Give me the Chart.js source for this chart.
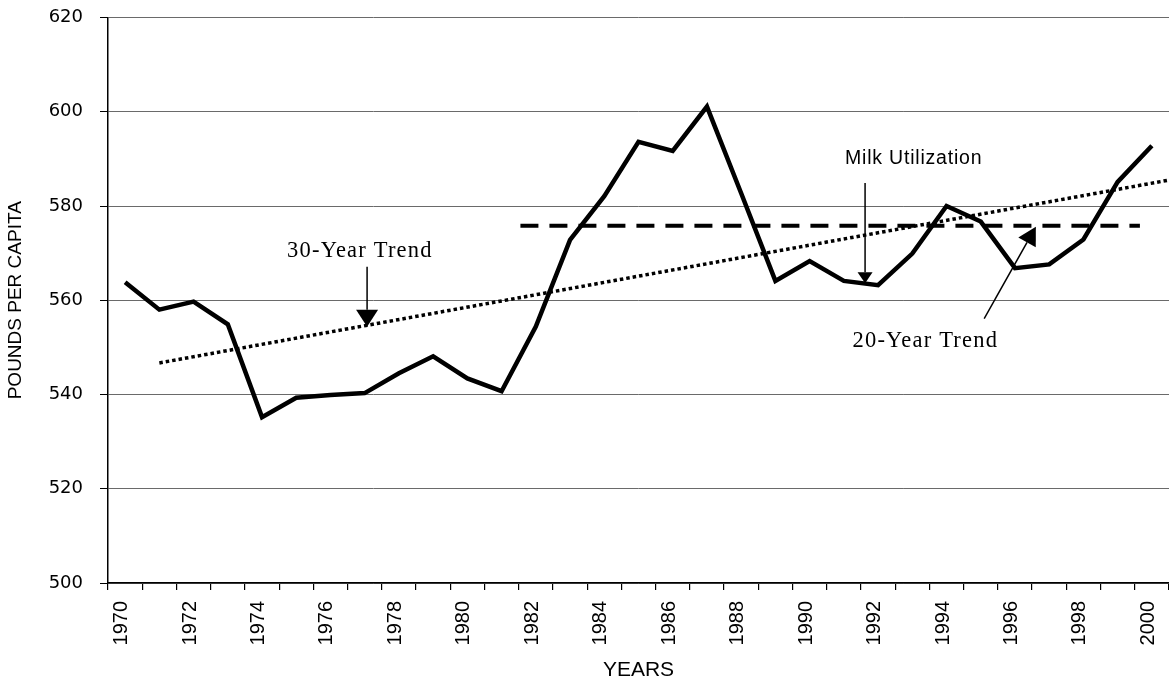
<!DOCTYPE html>
<html>
<head>
<meta charset="utf-8">
<title>Milk Utilization</title>
<script src="https://cdn.jsdelivr.net/npm/chart.js@4.4.1/dist/chart.umd.min.js"></script>
<style>
  html, body { margin: 0; padding: 0; background: #fff; }
  #wrap { width: 1169px; height: 684px; }
</style>
</head>
<body>
<div id="wrap"><canvas id="chart" width="1169" height="684"></canvas></div>
<script>
// data
const years = [1970, 1971, 1972, 1973, 1974, 1975, 1976, 1977, 1978, 1979,
               1980, 1981, 1982, 1983, 1984, 1985, 1986, 1987, 1988, 1989,
               1990, 1991, 1992, 1993, 1994, 1995, 1996, 1997, 1998, 1999, 2000];
const milkUse = [563.8, 558.0, 559.7, 554.9, 535.2, 539.3, 539.9, 540.3, 544.5, 548.1,
                 543.4, 540.7, 554.4, 572.8, 582.1, 593.6, 591.7, 601.1, 582.7, 564.1,
                 568.3, 564.1, 563.2, 569.9, 580.0, 576.7, 566.8, 567.6, 572.9, 585.1, 592.8];
const trend30Years = [1971, 2000.5];
const trend30Values = [546.7, 585.5];
const trend20Years = [1981.55, 1999.65];
const trend20Values = [575.8, 575.8];
const yTicks = [500, 520, 540, 560, 580, 600, 620];

// annotations, in data units
const notes = [
  { text: '30-Year Trend', x: 1976.86, y: 569.2, font: '22.5px "Liberation Serif"', spacing: 1.2 },
  { text: 'Milk Utilization', x: 1993.04, y: 588.9, font: '19.5px "Liberation Sans"', spacing: 0.8 },
  { text: '20-Year Trend', x: 1993.38, y: 550.0, font: '22.5px "Liberation Serif"', spacing: 1.2 }
];
const arrows = [
  { from: [1977.07, 567.1], to: [1977.07, 554.4], head: 17, half: 11 },
  { from: [1991.62, 584.9], to: [1991.62, 563.6], head: 11, half: 7.5 },
  { from: [1995.10, 556.1], to: [1996.61, 575.6], head: 18, half: 10 }
];

const toPoints = (xs, ys) => xs.map((x, i) => ({ x: x, y: ys[i] }));

const notesPlugin = {
  id: 'notes',
  afterDatasetsDraw(chart) {
    const ctx = chart.ctx;
    const xs = chart.scales.xt, ys = chart.scales.y;
    ctx.save();
    ctx.fillStyle = '#000';
    ctx.strokeStyle = '#000';
    ctx.textAlign = 'center';
    ctx.textBaseline = 'alphabetic';
    notes.forEach(n => {
      ctx.font = n.font;
      ctx.letterSpacing = n.spacing + 'px';
      ctx.fillText(n.text, xs.getPixelForValue(n.x), ys.getPixelForValue(n.y));
    });
    ctx.letterSpacing = '0px';
    ctx.lineWidth = 1.5;
    arrows.forEach(a => {
      const x1 = xs.getPixelForValue(a.from[0]), y1 = ys.getPixelForValue(a.from[1]);
      const x2 = xs.getPixelForValue(a.to[0]), y2 = ys.getPixelForValue(a.to[1]);
      const ang = Math.atan2(y2 - y1, x2 - x1);
      const bx = x2 - a.head * Math.cos(ang), by = y2 - a.head * Math.sin(ang);
      ctx.beginPath();
      ctx.moveTo(x1, y1);
      ctx.lineTo(bx, by);
      ctx.stroke();
      ctx.beginPath();
      ctx.moveTo(x2, y2);
      ctx.lineTo(bx - a.half * Math.sin(ang), by + a.half * Math.cos(ang));
      ctx.lineTo(bx + a.half * Math.sin(ang), by - a.half * Math.cos(ang));
      ctx.closePath();
      ctx.fill();
    });
    ctx.restore();
  }
};

new Chart(document.getElementById('chart'), {
  type: 'line',
  data: {
    labels: years,
    datasets: [
      {
        label: 'Milk Utilization',
        data: milkUse,
        xAxisID: 'x',
        borderColor: '#000',
        borderWidth: 4.5,
        pointRadius: 0,
        tension: 0,
        fill: false
      },
      {
        label: '20-Year Trend',
        data: toPoints(trend20Years, trend20Values),
        xAxisID: 'xt',
        borderColor: '#000',
        borderWidth: 4,
        borderDash: [18, 11],
        borderCapStyle: 'butt',
        pointRadius: 0,
        fill: false
      },
      {
        label: '30-Year Trend',
        data: toPoints(trend30Years, trend30Values),
        xAxisID: 'xt',
        borderColor: '#000',
        borderWidth: 3.5,
        borderDash: [3.5, 3],
        borderCapStyle: 'butt',
        pointRadius: 0,
        fill: false
      }
    ]
  },
  options: {
    responsive: false,
    animation: false,
    layout: { padding: { top: 17.5, right: 0, bottom: 0, left: 0 } },
    plugins: { legend: { display: false }, tooltip: { enabled: false } },
    scales: {
      x: {
        type: 'category',
        offset: true,
        grid: { offset: true, drawOnChartArea: false, tickLength: 7, tickColor: '#000', lineWidth: 1.2 },
        border: { color: '#000', width: 1.5 },
        ticks: {
          autoSkip: false,
          minRotation: 90,
          maxRotation: 90,
          padding: 11,
          labelOffset: -3.5,
          color: '#000',
          font: { family: '"Liberation Sans"', size: 20 },
          callback: function (v, i) { return years[i] % 2 === 0 ? String(years[i]) : ''; }
        },
        title: {
          display: true,
          text: 'YEARS',
          color: '#000',
          font: { family: '"Liberation Sans"', size: 21 },
          padding: { top: 0, bottom: 1 }
        },
        afterFit: s => { s.height = 101; s.paddingLeft = 0; s.paddingRight = 0; }
      },
      xt: {
        type: 'linear',
        display: false,
        min: years[0] - 0.5,
        max: years[years.length - 1] + 0.5
      },
      y: {
        min: 500,
        max: 620,
        afterBuildTicks: s => { s.ticks = yTicks.map(v => ({ value: v })); },
        grid: { color: '#6a6a6a', lineWidth: 1, tickLength: 8, tickColor: '#000' },
        border: { color: '#000', width: 1.5 },
        ticks: {
          padding: 17,
          color: '#000',
          font: { family: '"DejaVu Sans"', size: 18 }
        },
        title: {
          display: true,
          text: 'POUNDS PER CAPITA',
          color: '#000',
          font: { family: '"Liberation Sans"', size: 19 },
          padding: { top: 4.5, bottom: 0 }
        },
        afterFit: s => { s.width = 108; s.paddingTop = 0; s.paddingBottom = 0; }
      }
    }
  },
  plugins: [notesPlugin]
});
</script>
</body>
</html>
